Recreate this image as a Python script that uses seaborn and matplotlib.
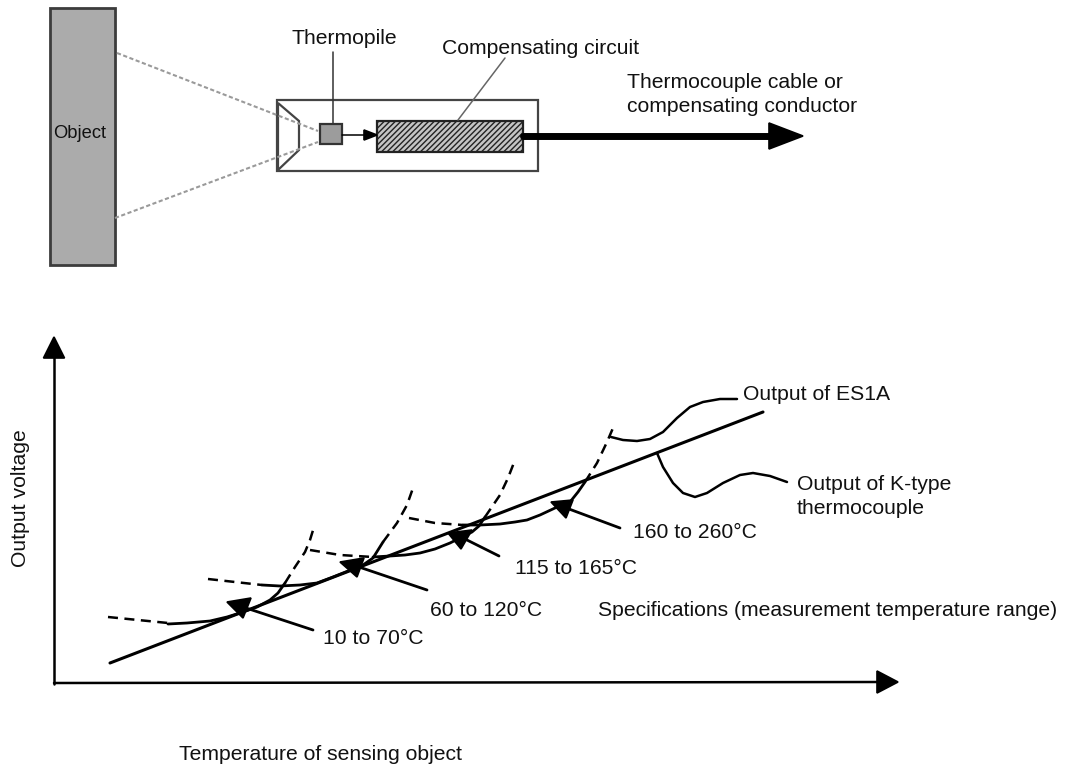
# Schema of the ES1A sensor and its output curves against the K-type thermocouple
import matplotlib
matplotlib.use('Agg')
import matplotlib.pyplot as plt
from matplotlib.patches import Polygon, Rectangle
import seaborn as sns

# K-type line
k_x = [110, 763]
k_y = [663, 412]

# ES1A ranges: dashed start, solid part, dashed end
r1_start_x = [108, 168]
r1_start_y = [617, 623]
r1_solid_x = [168, 187, 210, 227, 243, 257, 270, 278, 285]
r1_solid_y = [624, 623, 621, 617, 612, 607, 600, 593, 583]
r1_end_x = [285, 295, 305, 310, 314]
r1_end_y = [583, 567, 552, 540, 527]

r2_start_x = [208, 262]
r2_start_y = [579, 585]
r2_solid_x = [262, 280, 300, 317, 333, 353, 363, 373, 378, 383]
r2_solid_y = [585, 586, 585, 583, 577, 569, 565, 558, 550, 542]
r2_end_x = [383, 397, 407, 413]
r2_end_y = [542, 523, 505, 488]

r3_start_x = [310, 340, 373]
r3_start_y = [550, 555, 557]
r3_solid_x = [373, 390, 405, 420, 435, 450, 462, 472, 479, 485]
r3_solid_y = [557, 556, 555, 553, 549, 543, 537, 532, 526, 517]
r3_end_x = [485, 500, 508, 515]
r3_end_y = [517, 495, 478, 460]

r4_start_x = [409, 435, 463]
r4_start_y = [518, 523, 525]
r4_solid_x = [463, 480, 500, 515, 527, 540, 555, 570, 578, 585]
r4_solid_y = [525, 525, 524, 522, 520, 515, 508, 502, 492, 482]
r4_end_x = [585, 597, 607, 613]
r4_end_y = [482, 463, 442, 428]

# curved leaders
es1a_x = [611, 623, 637, 650, 663, 677, 690, 703, 720, 737]
es1a_y = [437, 440, 441, 439, 432, 418, 407, 402, 399, 399]
ktype_x = [657, 663, 673, 683, 695, 707, 723, 740, 753, 770, 787]
ktype_y = [453, 467, 483, 493, 497, 493, 483, 475, 473, 476, 482]

range_labels = ['10 to 70°C', '60 to 120°C', '115 to 165°C', '160 to 260°C']
label_x = [323, 430, 515, 633]
label_y = [639, 610, 569, 532]
arrow_tail = [(313, 630), (427, 590), (499, 556), (620, 528)]
arrow_base = [(246, 608), (359, 567), (465, 539), (569, 509)]
arrow_heads = [
	[(227, 602), (251, 598), (243, 618)],
	[(340, 562), (364, 558), (357, 577)],
	[(448, 533), (472, 530), (461, 549)],
	[(551, 502), (573, 500), (566, 518)],
]

sns.set_theme(style='white')
plt.rcParams['font.family'] = ['Liberation Sans', 'DejaVu Sans']
plt.rcParams['hatch.linewidth'] = 1.0

fig, ax = plt.subplots(figsize=(10.68, 7.66), dpi=100)
ax.set_position([0, 0, 1, 1])
ax.set_xlim(0, 1068)
ax.set_ylim(766, 0)
ax.axis('off')

def trace(x, y, lw=2.0, ls='-', color='black'):
	sns.lineplot(x=x, y=y, sort=False, estimator=None, color=color, linewidth=lw, linestyle=ls, ax=ax, legend=False)

def head(points, color='black'):
	ax.add_patch(Polygon(points, closed=True, facecolor=color, edgecolor=color, lw=1.2))

# curves
dash = (0, (4, 2.6))
trace(k_x, k_y, lw=2.2)
for sx, sy, mx, my, ex, ey in [
	(r1_start_x, r1_start_y, r1_solid_x, r1_solid_y, r1_end_x, r1_end_y),
	(r2_start_x, r2_start_y, r2_solid_x, r2_solid_y, r2_end_x, r2_end_y),
	(r3_start_x, r3_start_y, r3_solid_x, r3_solid_y, r3_end_x, r3_end_y),
	(r4_start_x, r4_start_y, r4_solid_x, r4_solid_y, r4_end_x, r4_end_y)]:
	trace(sx, sy, lw=1.8, ls=dash)
	trace(mx, my, lw=2.0)
	trace(ex, ey, lw=1.8, ls=dash)
trace(es1a_x, es1a_y, lw=1.8)
trace(ktype_x, ktype_y, lw=1.8)

# arrows to the ranges
for tail, base, pts in zip(arrow_tail, arrow_base, arrow_heads):
	trace([tail[0], base[0]], [tail[1], base[1]], lw=2.0)
	head(pts)

# axes of the graph
trace([54, 54], [684, 356], lw=1.8)
head([(54, 337), (43.5, 358), (64.5, 358)])
trace([54, 879], [683, 682], lw=1.8)
head([(898, 682), (877, 671), (877, 693)])

# sensor schema
ax.add_patch(Rectangle((50, 8), 65, 257, facecolor='#ababab', edgecolor='#3c3c3c', lw=2))
trace([117, 318], [53, 131], lw=1.5, ls=(0, (2, 1.2)), color='#9a9a9a')
trace([115, 318], [218, 142], lw=1.5, ls=(0, (2, 1.2)), color='#9a9a9a')
ax.add_patch(Rectangle((277, 100), 261, 71, fill=False, edgecolor='#444444', lw=1.6))
ax.add_patch(Polygon([(278, 103), (299, 121), (299, 150), (278, 170)], fill=False, edgecolor='#444444', lw=1.6))
ax.add_patch(Rectangle((320, 124), 22, 20, facecolor='#9c9c9c', edgecolor='#333333', lw=1.6))
ax.add_patch(Rectangle((377, 121), 146, 31, facecolor='#c4c4c4', edgecolor='#222222', hatch='//////', lw=1.6))
trace([333, 333], [52, 124], lw=1.1, color='#333333')
trace([505, 458], [58, 120], lw=1.1, color='#666666')
trace([342, 366], [135, 135], lw=1.1)
head([(377, 135), (364, 130), (364, 140)])
trace([523, 772], [136, 136], lw=5)
head([(803, 136), (769, 123), (769, 149)])

# texts
fs = 15.2
dark = '#111111'
ax.text(292, 39, 'Thermopile', fontsize=fs, va='center', color=dark)
ax.text(442, 49, 'Compensating circuit', fontsize=fs, va='center', color=dark)
ax.text(627, 83, 'Thermocouple cable or', fontsize=fs, va='center', color=dark)
ax.text(627, 107, 'compensating conductor', fontsize=fs, va='center', color=dark)
ax.text(53, 134, 'Object', fontsize=13.2, va='center', color=dark)
ax.text(743, 395, 'Output of ES1A', fontsize=fs, va='center', color=dark)
ax.text(797, 485, 'Output of K-type', fontsize=fs, va='center', color=dark)
ax.text(797, 509, 'thermocouple', fontsize=fs, va='center', color=dark)
ax.text(598, 611, 'Specifications (measurement temperature range)', fontsize=fs, va='center', color=dark)
ax.text(179, 755, 'Temperature of sensing object', fontsize=fs, va='center', color=dark)
ax.text(21, 498, 'Output voltage', fontsize=fs, va='center', ha='center', rotation=90, color=dark)
for lab, lx, ly in zip(range_labels, label_x, label_y):
	ax.text(lx, ly, lab, fontsize=fs, va='center', color=dark)

fig.savefig('out.png', dpi=100)
